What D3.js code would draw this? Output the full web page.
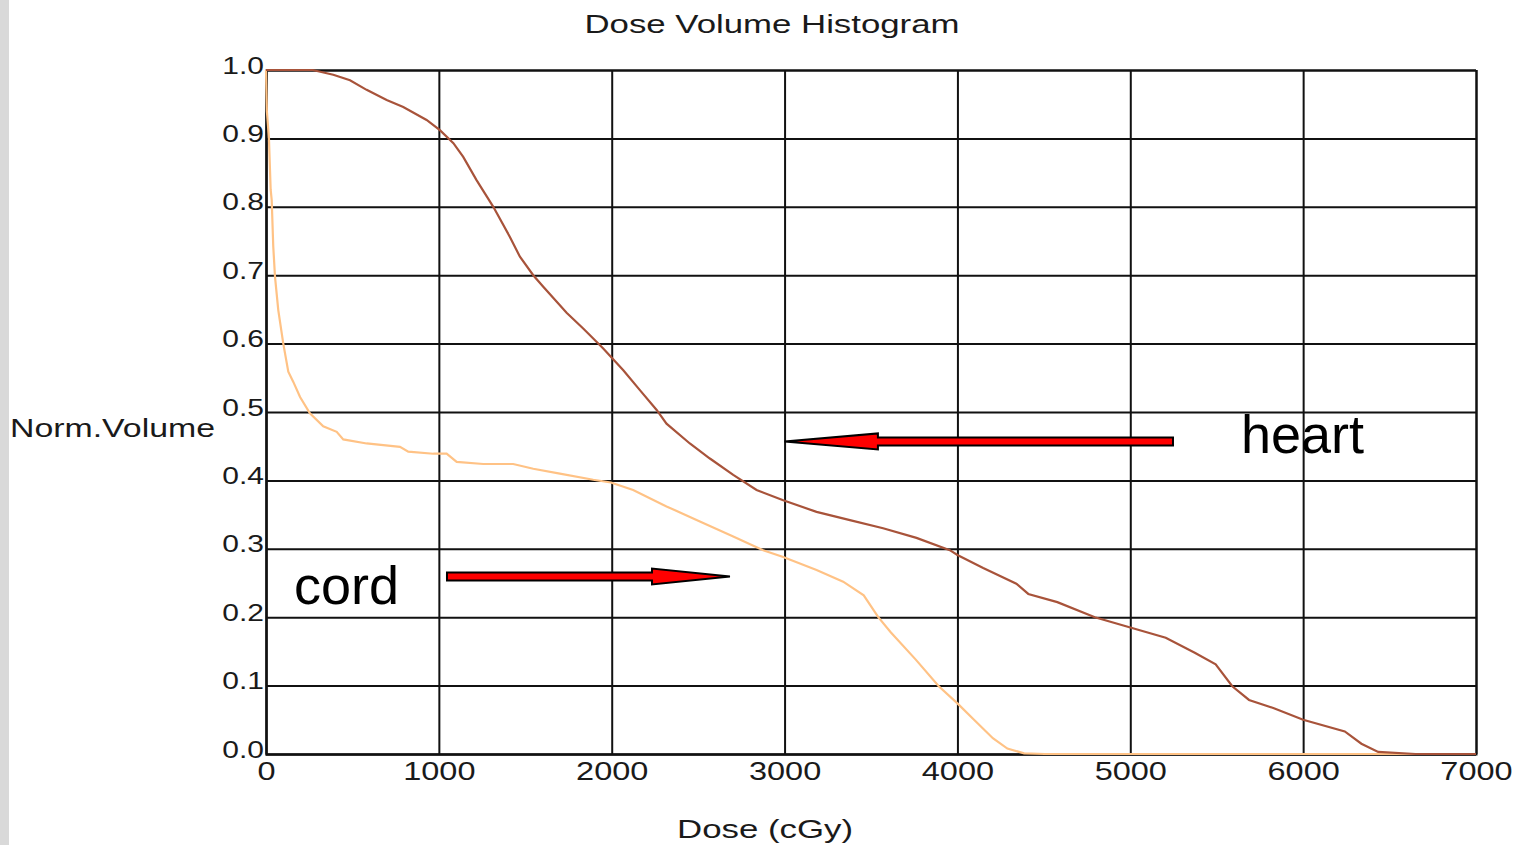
<!DOCTYPE html>
<html>
<head>
<meta charset="utf-8">
<script src="https://cdn.jsdelivr.net/npm/d3@7"></script>
<style>
  html, body { margin: 0; padding: 0; background: #fff; }
  svg { display: block; }
  text { font-family: "Liberation Sans", Arial, sans-serif; }
</style>
</head>
<body>
<svg id="chart" width="1516" height="845"></svg>
<script>
// ---- Data ----
const xTicks = [0, 1000, 2000, 3000, 4000, 5000, 6000, 7000];
const yTicks = [0, 0.1, 0.2, 0.3, 0.4, 0.5, 0.6, 0.7, 0.8, 0.9, 1.0];

const heartDose = [0, 270, 389, 486, 582, 698, 794, 929, 1006, 1084, 1141, 1218, 1315, 1411, 1469, 1546, 1604, 1739, 1835, 1951, 2067, 2163, 2260, 2317, 2452, 2568, 2703, 2838, 2992, 3185, 3378, 3570, 3763, 3956, 4000, 4149, 4341, 4410, 4578, 4795, 5000, 5205, 5373, 5494, 5590, 5687, 5831, 6000, 6241, 6337, 6434, 6651, 7000];
const heartVol  = [1.0, 1.0, 0.993, 0.985, 0.971, 0.956, 0.946, 0.927, 0.912, 0.893, 0.873, 0.839, 0.800, 0.756, 0.727, 0.700, 0.683, 0.645, 0.622, 0.593, 0.561, 0.532, 0.503, 0.483, 0.454, 0.432, 0.408, 0.386, 0.371, 0.354, 0.342, 0.330, 0.316, 0.298, 0.291, 0.272, 0.249, 0.234, 0.222, 0.200, 0.185, 0.170, 0.148, 0.131, 0.099, 0.079, 0.067, 0.050, 0.033, 0.015, 0.003, 0.0, 0.0];

const cordDose = [0, 5, 17, 27, 33, 42, 52, 71, 100, 129, 158, 197, 254, 331, 409, 447, 582, 775, 823, 968, 1045, 1103, 1257, 1430, 1546, 1700, 1893, 1995, 2124, 2317, 2510, 2703, 2876, 2992, 3185, 3339, 3458, 3542, 3614, 3759, 3892, 4000, 4096, 4205, 4289, 4386, 4506, 7000];
const cordVol  = [1.0, 0.94, 0.90, 0.825, 0.81, 0.742, 0.698, 0.649, 0.600, 0.559, 0.544, 0.522, 0.498, 0.479, 0.471, 0.460, 0.454, 0.449, 0.442, 0.439, 0.439, 0.427, 0.424, 0.424, 0.417, 0.410, 0.401, 0.397, 0.386, 0.362, 0.340, 0.318, 0.298, 0.288, 0.269, 0.252, 0.232, 0.200, 0.178, 0.138, 0.099, 0.074, 0.050, 0.023, 0.008, 0.001, 0.0, 0.0];

// annotation arrows in data coordinates: [tailDose, headBaseDose, tipDose, vol]
const heartArrow = [5247, 3540, 3000, 0.457];
const cordArrow  = [1047, 2233, 2684, 0.2595];

// ---- Chart ----
const svg = d3.select("#chart");
const L = 266, R = 1476, T = 70, B = 754;
const x = d3.scaleLinear().domain([0, 7000]).range([L, R]);
const y = d3.scaleLinear().domain([0, 1]).range([B, T]);

// left gray strip
svg.append("rect").attr("x", 0).attr("y", 0).attr("width", 9).attr("height", 845).attr("fill", "#d9d9d9");

function stretch(sel, k) {
  sel.each(function() {
    const w = this.getComputedTextLength();
    d3.select(this).attr("textLength", w * k).attr("lengthAdjust", "spacingAndGlyphs");
  });
}

// grid via axes
const gx = svg.append("g").attr("transform", `translate(0,${B})`)
  .call(d3.axisBottom(x).tickValues(xTicks).tickSize(-(B - T)).tickPadding(0).tickFormat(d3.format("d")));
gx.select(".domain").attr("stroke", "#111").attr("stroke-width", 2);
gx.selectAll(".tick line").attr("stroke", "#111").attr("stroke-width", 2);
gx.selectAll(".tick text")
  .attr("y", 26).attr("dy", 0)
  .attr("fill", "#1a1a1a").style("font-size", "26px");
stretch(gx.selectAll(".tick text"), 1.25);

const gy = svg.append("g").attr("transform", `translate(${L},0)`)
  .call(d3.axisLeft(y).tickValues(yTicks).tickSize(-(R - L)).tickPadding(0).tickFormat(d3.format(".1f")));
gy.select(".domain").attr("stroke", "#111").attr("stroke-width", 2);
gy.selectAll(".tick line").attr("stroke", "#111").attr("stroke-width", 2);
gy.selectAll(".tick text")
  .attr("x", -2).attr("dy", 3)
  .attr("fill", "#1a1a1a").style("font-size", "24px");
stretch(gy.selectAll(".tick text"), 1.25);

// curves
const line = d3.line().x(d => x(d[0])).y(d => y(d[1]));
const cord = cordDose.map((d, i) => [d, cordVol[i]]);
const heart = heartDose.map((d, i) => [d, heartVol[i]]);

svg.append("path").datum(cord).attr("d", line)
  .attr("fill", "none").attr("stroke", "#ffc285").attr("stroke-width", 2.2);
svg.append("path").datum(heart).attr("d", line)
  .attr("fill", "none").attr("stroke", "#a8533a").attr("stroke-width", 2.2);

// titles
svg.append("text").attr("x", 772).attr("y", 33).attr("text-anchor", "middle")
  .attr("fill", "#1a1a1a").style("font-size", "26px")
  .attr("textLength", 375).attr("lengthAdjust", "spacingAndGlyphs")
  .text("Dose Volume Histogram");
svg.append("text").attr("x", 10).attr("y", 437).attr("text-anchor", "start")
  .attr("fill", "#1a1a1a").style("font-size", "26px")
  .attr("textLength", 205).attr("lengthAdjust", "spacingAndGlyphs")
  .text("Norm.Volume");
svg.append("text").attr("x", 765).attr("y", 838).attr("text-anchor", "middle")
  .attr("fill", "#1a1a1a").style("font-size", "26px")
  .attr("textLength", 176).attr("lengthAdjust", "spacingAndGlyphs")
  .text("Dose (cGy)");

// annotations
function arrow(a) {
  const [tail, base, tip, v] = a;
  const xt = x(tail), xb = x(base), xp = x(tip), yc = y(v);
  const sh = 4, hh = 8;
  const pts = [[xt, yc - sh], [xb, yc - sh], [xb, yc - hh], [xp, yc], [xb, yc + hh], [xb, yc + sh], [xt, yc + sh]];
  svg.append("path").attr("d", "M" + pts.map(p => p.join(",")).join("L") + "Z")
    .attr("fill", "#ff0000").attr("stroke", "#000").attr("stroke-width", 2).attr("stroke-linejoin", "miter");
}
arrow(heartArrow);
arrow(cordArrow);

svg.append("text").attr("x", 1241).attr("y", 453).attr("fill", "#000")
  .style("font-size", "54px").text("heart");
svg.append("text").attr("x", 294).attr("y", 604).attr("fill", "#000")
  .style("font-size", "54px").text("cord");
</script>
</body>
</html>
